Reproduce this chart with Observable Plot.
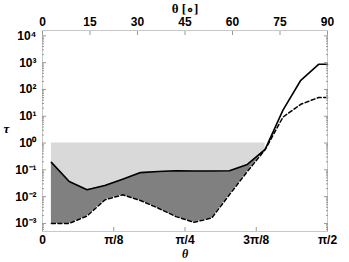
<!DOCTYPE html>
<html><head><meta charset="utf-8">
<script src="https://cdn.jsdelivr.net/npm/d3@7"></script>
<script src="https://cdn.jsdelivr.net/npm/@observablehq/plot@0.6"></script>
<style>
body{margin:0;background:#fff}
svg{font-family:"Liberation Sans",Arial,sans-serif}
</style>
</head><body><div id="chart"></div>
<script>
// angles (degrees) of the sampled points
const thetaDeg = [2.8125, 8.4375, 14.0625, 19.6875, 25.3125, 30.9375, 36.5625, 42.1875, 47.8125, 53.4375, 59.0625, 64.6875, 70.3125, 75.9375, 81.5625, 87.1875, 90];
// solid curve (upper)
const tauSolid = [0.19, 0.037, 0.018, 0.026, 0.045, 0.079, 0.087, 0.093, 0.091, 0.091, 0.093, 0.16, 0.58, 17, 220, 870, 870];
// dashed curve (lower)
const tauDashed = [0.001, 0.001, 0.0019, 0.0076, 0.0117, 0.0072, 0.0037, 0.0018, 0.0011, 0.0016, 0.012, 0.087, 0.57, 9.3, 28, 50, 50];
const shadeUntilDeg = 70.3125;
const shadeTop = 1;

const bottomTicks = [0, Math.PI / 8, Math.PI / 4, 3 * Math.PI / 8, Math.PI / 2];
const bottomTickLabels = ["0", "π/8", "π/4", "3π/8", "π/2"];
const topTicksDeg = [0, 15, 30, 45, 60, 75, 90];
const yExponents = [-3, -2, -1, 0, 1, 2, 3, 4];

const sup = {"-": "⁻", "0": "⁰", "1": "¹", "2": "²", "3": "³", "4": "⁴", "5": "⁵", "6": "⁶", "7": "⁷", "8": "⁸", "9": "⁹"};
const yMajor = yExponents.map(e => Math.pow(10, e));
const yMinor = [];
for (let e = -4; e <= 4; e++) for (let k = 2; k <= 9; k++) yMinor.push(k * Math.pow(10, e));
const yDomain = [Math.pow(10, -3.3), Math.pow(10, 4.2)];
const yMinorIn = yMinor.filter(v => v >= yDomain[0] && v <= yDomain[1]);

const rows = thetaDeg.map((d, i) => ({theta: d * Math.PI / 180, deg: d, upper: tauSolid[i], lower: tauDashed[i], top: shadeTop}));
const shaded = rows.filter(r => r.deg <= shadeUntilDeg + 1e-9);

const tickColor = "#999";
const plot = Plot.plot({
  width: 349,
  height: 262,
  marginLeft: 42,
  marginRight: 22,
  marginTop: 30,
  marginBottom: 31,
  style: {fontSize: "12px", fontWeight: "bold", fontFamily: "'Liberation Sans', Arial, sans-serif"},
  x: {domain: [0, Math.PI / 2]},
  y: {type: "log", domain: yDomain},
  marks: [
    Plot.frame({stroke: "#c8c8c8"}),
    Plot.areaY(shaded, {x: "theta", y1: "upper", y2: "top", fill: "#d9d9d9"}),
    Plot.areaY(shaded, {x: "theta", y1: "lower", y2: "upper", fill: "#808080"}),
    Plot.lineY(rows, {x: "theta", y: "lower", stroke: "black", strokeWidth: 1.5, strokeDasharray: "4,2.5"}),
    Plot.lineY(rows, {x: "theta", y: "upper", stroke: "black", strokeWidth: 1.6}),
    // bottom axis
    Plot.axisX(bottomTicks, {anchor: "bottom", tickSize: 0, tickPadding: 4, label: null,
      tickFormat: d => bottomTickLabels[bottomTicks.indexOf(d)], fontWeight: "bold"}),
    Plot.axisX(bottomTicks, {anchor: "bottom", tickSize: -4, stroke: tickColor, tickFormat: () => "", label: null}),
    // top axis
    Plot.axisX(topTicksDeg.map(d => d * Math.PI / 180), {anchor: "top", tickSize: 0, tickPadding: 5, label: null,
      tickFormat: d => String(Math.round(d * 180 / Math.PI))}),
    Plot.axisX(topTicksDeg.map(d => d * Math.PI / 180), {anchor: "top", tickSize: -4, stroke: tickColor, tickFormat: () => "", label: null}),
    // left axis
    Plot.axisY(yMajor, {anchor: "left", tickSize: 0, tickPadding: 6, label: null,
      tickFormat: d => "10" + String(Math.round(Math.log10(d))).split("").map(c => sup[c]).join("")}),
    Plot.axisY(yMajor, {anchor: "left", tickSize: -4, stroke: tickColor, tickFormat: () => "", label: null}),
    Plot.axisY(yMinorIn, {anchor: "left", tickSize: -2, stroke: tickColor, tickFormat: () => "", label: null}),
    // right axis
    Plot.axisY(yMajor, {anchor: "right", tickSize: -4, stroke: tickColor, tickFormat: () => "", label: null}),
    Plot.axisY(yMinorIn, {anchor: "right", tickSize: -2, stroke: tickColor, tickFormat: () => "", label: null}),
    // axis titles
    Plot.text(["θ"], {text: d => d, frameAnchor: "bottom", lineAnchor: "middle", dy: 23, fontFamily: "'Liberation Serif', serif", fontStyle: "italic", fontWeight: "bold", fontSize: 12}),
    Plot.text(["θ [∘]"], {text: d => d, frameAnchor: "top", lineAnchor: "middle", dy: -22, fontFamily: "'Liberation Serif', serif", fontWeight: "bold", fontSize: 13}),
    Plot.text(["τ"], {text: d => d, frameAnchor: "left", textAnchor: "middle", dx: -36, dy: -2, fontFamily: "'Liberation Serif', serif", fontStyle: "italic", fontWeight: "bold", fontSize: 13})
  ]
});
document.getElementById("chart").appendChild(plot);
</script>
</body></html>
